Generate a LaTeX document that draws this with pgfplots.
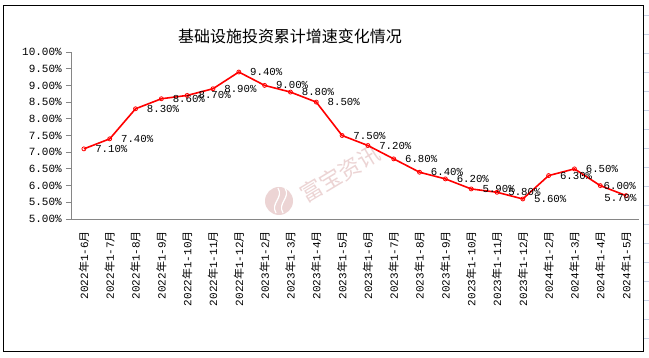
\documentclass[border=0pt]{standalone}
\usepackage{pgfplots}
\pgfplotsset{compat=1.18}
\usepackage{pgfplotstable}
\usepackage{fontspec}
\setmainfont{Liberation Mono}
\newfontfamily\cjk{Noto Sans CJK SC}
\definecolor{axgray}{RGB}{134,134,134}
\definecolor{wmpink}{RGB}{236,212,212}
\definecolor{gridblue}{RGB}{200,208,228}

\pgfplotstableread{
x y dx dy
0 7.1 11 0
1 7.4 11 0
2 8.3 11 0
3 8.6 11 0
4 8.7 11 0
5 8.9 11 0
6 9.4 11 0
7 9.0 11 0
8 8.8 11 0
9 8.5 11 0
10 7.5 11 0
11 7.2 11 0
12 6.8 11 0
13 6.4 11 0
14 6.2 11 0
15 5.9 11 0
16 5.8 11 0
17 5.6 11 0
18 6.3 11 0
19 6.5 11 0
20 6.0 3 0
21 5.7 -22 -2
}\datatable

\begin{document}
\begin{tikzpicture}
\path[use as bounding box, fill=white] (0,0) rectangle (649pt,358pt);
% spreadsheet grid at right edge
\foreach \yy in {15,34,53,72,91,110,129,148,167,186,205,224,243,262,281,300,319,338} {
  \draw[gridblue, line width=0.8pt] (644pt,358pt-\yy pt) -- (649pt,358pt-\yy pt);
}
% chart border
\draw[black, line width=1pt] (3pt,6pt) rectangle (643pt,352pt);
% title
\node[font=\cjk\fontsize{16}{18}\selectfont] at (290pt,322pt) {基础设施投资累计增速变化情况};
% watermark
\fill[wmpink] (279pt,157pt) circle (14pt);
\draw[white, line width=1.2pt] (276pt,145pt) .. controls (270pt,155pt) and (284pt,160pt) .. (278pt,170pt);
\draw[white, line width=1.2pt] (283pt,145pt) .. controls (277pt,155pt) and (291pt,160pt) .. (285pt,170pt);
\node[font=\cjk\fontsize{22}{24}\selectfont, text=wmpink, rotate=31] at (340pt,184pt) {富宝资讯};

\begin{axis}[
  at={(71pt,139pt)}, anchor=south west,
  scale only axis, width=568pt, height=167pt,
  xmin=-0.5, xmax=21.5, ymin=5, ymax=10,
  axis x line=bottom, axis y line=left,
  axis line style={draw=axgray, line width=0.8pt, -},
  ytick={5,5.5,...,10},
  yticklabel={\pgfmathprintnumber[fixed,fixed zerofill,precision=2]{\tick}\%},
  /pgf/number format/assume math mode=true,
  yticklabel style={font=\fontsize{11}{12}\selectfont, inner sep=0pt, anchor=east, xshift=-4pt},
  ytick style={draw=axgray, line width=0.8pt},
  tick align=outside,
  major tick length=5pt,
  xtick={0,...,21},
  x tick style={draw=none},
  xticklabels={2022{\cjk 年}1-6{\cjk 月},2022{\cjk 年}1-7{\cjk 月},2022{\cjk 年}1-8{\cjk 月},2022{\cjk 年}1-9{\cjk 月},2022{\cjk 年}1-10{\cjk 月},2022{\cjk 年}1-11{\cjk 月},2022{\cjk 年}1-12{\cjk 月},2023{\cjk 年}1-2{\cjk 月},2023{\cjk 年}1-3{\cjk 月},2023{\cjk 年}1-4{\cjk 月},2023{\cjk 年}1-5{\cjk 月},2023{\cjk 年}1-6{\cjk 月},2023{\cjk 年}1-7{\cjk 月},2023{\cjk 年}1-8{\cjk 月},2023{\cjk 年}1-9{\cjk 月},2023{\cjk 年}1-10{\cjk 月},2023{\cjk 年}1-11{\cjk 月},2023{\cjk 年}1-12{\cjk 月},2024{\cjk 年}1-2{\cjk 月},2024{\cjk 年}1-3{\cjk 月},2024{\cjk 年}1-4{\cjk 月},2024{\cjk 年}1-5{\cjk 月}},
  xticklabel style={font=\fontsize{11}{12}\selectfont, rotate=90, anchor=east, inner sep=0pt},
  xticklabel shift=7pt,
  clip=false,
]
\addplot[red, line width=1.6pt, mark=o, mark size=2pt,
  mark options={fill=white, line width=0.8pt},
  visualization depends on={\thisrow{dx} \as \labeldx},
  visualization depends on={\thisrow{dy} \as \labeldy},
  nodes near coords={\pgfmathprintnumber[fixed,fixed zerofill,precision=2]{\pgfplotspointmeta}\%},
  nodes near coords style={font=\fontsize{10.7}{12}\selectfont, text=black, anchor=west, inner sep=0pt, xshift=\labeldx pt, yshift=\labeldy pt},
] table[x=x, y=y] {\datatable};
\end{axis}
\end{tikzpicture}
\end{document}
